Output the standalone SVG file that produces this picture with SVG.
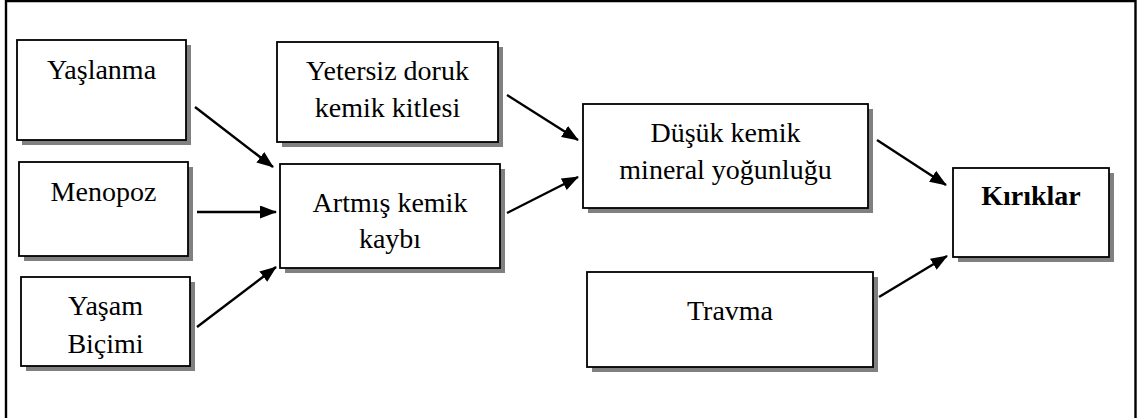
<svg xmlns="http://www.w3.org/2000/svg" width="1137" height="418" viewBox="0 0 1137 418">
<style>
.sh{fill:#808080}
.bx{fill:#fff;stroke:#000;stroke-width:1.8}
text{font-family:"Liberation Serif","Times New Roman",serif;font-size:28px;fill:#000;text-anchor:middle}
.b{font-weight:bold}
.c{stroke:#000;stroke-width:2.4;fill:none;marker-end:url(#ah)}
</style>
<defs>
<marker id="ah" viewBox="0 0 17 13" refX="16" refY="6.5" markerWidth="17" markerHeight="13" markerUnits="userSpaceOnUse" orient="auto">
<path d="M0,0 L17,6.5 L0,13 z" fill="#000"/>
</marker>
</defs>
<rect width="1137" height="418" fill="#fff"/>
<path d="M6,418 V1 H1135.5 V418" fill="none" stroke="#000" stroke-width="2.4"/>
<g id="yaslanma">
<rect class="sh" x="22" y="45" width="169" height="100"/>
<rect class="bx" x="17" y="40" width="169" height="100"/>
<text x="101.5" y="79">Yaşlanma</text>
</g>
<g id="menopoz">
<rect class="sh" x="24" y="167" width="169" height="94"/>
<rect class="bx" x="19" y="162" width="169" height="94"/>
<text x="103.5" y="201">Menopoz</text>
</g>
<g id="yasam">
<rect class="sh" x="26" y="282" width="169" height="89"/>
<rect class="bx" x="21" y="277" width="169" height="89"/>
<text x="105.5" y="315">Yaşam</text>
<text x="105.5" y="353">Biçimi</text>
</g>
<g id="yetersiz">
<rect class="sh" x="282" y="47" width="221" height="100"/>
<rect class="bx" x="277" y="42" width="221" height="100"/>
<text x="387.5" y="80">Yetersiz doruk</text>
<text x="387.5" y="117">kemik kitlesi</text>
</g>
<g id="artmis">
<rect class="sh" x="285" y="169" width="220" height="104"/>
<rect class="bx" x="280" y="164" width="220" height="104"/>
<text x="390" y="212">Artmış kemik</text>
<text x="390" y="248">kaybı</text>
</g>
<g id="dusuk">
<rect class="sh" x="588" y="109" width="285" height="104"/>
<rect class="bx" x="583" y="104" width="285" height="104"/>
<text x="725.5" y="142">Düşük kemik</text>
<text x="725.5" y="179">mineral yoğunluğu</text>
</g>
<g id="travma">
<rect class="sh" x="592" y="277" width="286" height="95"/>
<rect class="bx" x="587" y="272" width="286" height="95"/>
<text x="730" y="320">Travma</text>
</g>
<g id="kiriklar">
<rect class="sh" x="958" y="173" width="156" height="89"/>
<rect class="bx" x="953" y="168" width="156" height="89"/>
<text class="b" x="1031" y="205">Kırıklar</text>
</g>
<g id="connectors">
<line class="c" x1="195" y1="107" x2="273" y2="167"/>
<line class="c" x1="197" y1="212" x2="276" y2="212"/>
<line class="c" x1="197" y1="327" x2="276" y2="267"/>
<line class="c" x1="507" y1="95" x2="578" y2="140"/>
<line class="c" x1="507" y1="213" x2="578" y2="177"/>
<line class="c" x1="877" y1="140" x2="946" y2="185"/>
<line class="c" x1="879" y1="297" x2="947" y2="256"/>
</g>
</svg>
